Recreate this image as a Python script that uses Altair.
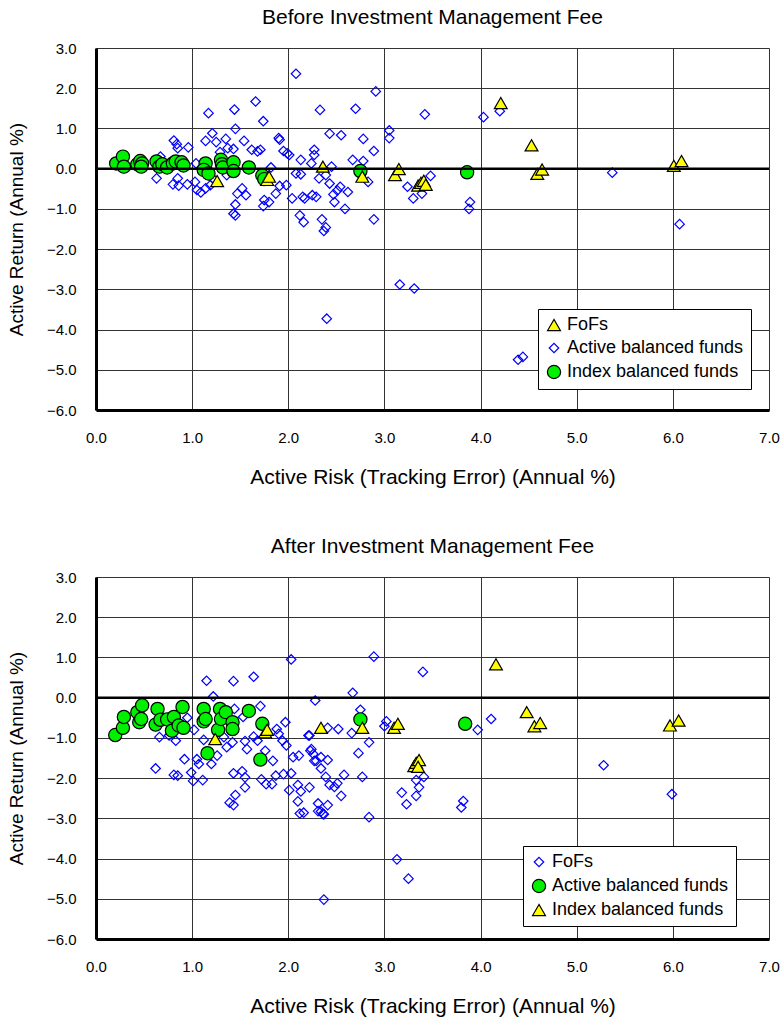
import altair as alt
import pandas as pd

# ---------------- Top panel (Before fee) ----------------
top_title = "Before Investment Management Fee"
top_labels = ["FoFs", "Active balanced funds", "Index balanced funds"]  # triangle, diamond, circle

top_tri_x = [1.26, 1.78, 1.80, 2.36, 2.77, 3.11, 3.15, 3.35, 3.38, 3.41, 3.43, 4.21, 4.53, 4.59, 4.64, 6.01, 6.09]
top_tri_y = [-0.31, -0.28, -0.20, 0.05, -0.20, -0.16, -0.01, -0.42, -0.35, -0.30, -0.40, 1.63, 0.58, -0.13, -0.02, 0.07, 0.19]

top_dia_x = [2.08, 1.66, 1.44, 1.17, 1.74, 1.45, 1.21, 1.14, 1.25, 1.35, 1.37, 1.43, 1.29, 1.54, 1.62, 1.68, 1.71,
             1.90, 1.91, 1.95, 1.99, 2.01, 2.13, 2.27, 2.27, 0.81, 0.84, 0.85, 0.96, 0.67, 0.63, 0.80, 0.85, 0.86,
             0.95, 1.03, 1.05, 1.09, 1.14, 1.19, 1.23, 1.04, 1.36, 1.52, 1.56, 1.47, 1.45, 1.43, 1.45, 1.75, 1.74,
             1.80, 1.87, 1.91, 1.98, 2.04, 2.08, 2.13, 2.12, 2.16, 2.15, 2.17, 2.25, 2.29, 2.32, 1.82,
             2.91, 2.33, 2.70, 3.42, 4.03, 4.20, 2.43, 2.55, 2.78, 2.89, 3.05, 3.05, 2.67, 2.78, 2.24, 2.45,
             2.39, 2.43, 2.54, 2.51, 2.62, 2.47, 2.48, 2.59, 2.83, 2.89, 2.35, 2.39, 3.24, 3.30, 3.39, 3.48,
             3.89, 3.88, 2.37, 3.16, 3.31, 2.40, 4.39, 4.44, 5.37, 6.07]
top_dia_y = [2.36, 1.67, 1.47, 1.38, 1.18, 0.99, 0.88, 0.69, 0.66, 0.74, 0.51, 0.49, 0.41, 0.69, 0.47, 0.43, 0.47,
             0.76, 0.72, 0.44, 0.38, 0.34, 0.22, 0.47, 0.34, 0.70, 0.61, 0.51, 0.53, 0.30, -0.24, -0.39, -0.24, -0.42,
             -0.39, -0.33, -0.53, -0.59, -0.49, -0.41, -0.28, 0.13, -0.16, -0.49, -0.66, -0.62, -0.89, -1.12, -1.16, -0.78, -0.93,
             -0.83, -0.62, -0.43, -0.41, -0.74, -0.12, -0.14, -1.16, -1.33, -0.70, -0.74, -0.66, -0.70, -0.24, 0.03,
             1.92, 1.46, 1.49, 1.35, 1.28, 1.43, 0.87, 0.83, 0.74, 0.44, 0.95, 0.76, 0.22, 0.19, 0.13, 0.05,
             -0.16, -0.37, -0.45, -0.54, -0.58, -0.64, -0.83, -1.00, -0.33, -1.26, -1.26, -1.46, -0.45, -0.74, -0.62, -0.18,
             -0.83, -1.00, -1.55, -2.88, -2.98, -3.73, -4.75, -4.68, -0.10, -1.38]

top_cir_x = [0.21, 0.28, 0.29, 0.43, 0.46, 0.48, 0.47, 0.63, 0.66, 0.69, 0.74, 0.80, 0.83, 0.89, 0.91, 1.14,
             1.12, 1.17, 1.30, 1.31, 1.32, 1.43, 1.43, 1.59, 1.73, 1.75, 2.75, 3.86]
top_cir_y = [0.13, 0.30, 0.05, 0.11, 0.19, 0.13, 0.05, 0.18, 0.05, 0.11, 0.03, 0.13, 0.18, 0.16, 0.08, 0.13,
             -0.03, -0.12, 0.22, 0.11, 0.03, 0.16, -0.06, 0.03, -0.17, -0.26, -0.06, -0.09]

# ---------------- Bottom panel (After fee) ----------------
bot_title = "After Investment Management Fee"
bot_labels = ["FoFs", "Active balanced funds", "Index balanced funds"]  # diamond, circle, triangle

bot_dia_x = [2.03, 1.15, 1.43, 1.64, 1.22, 2.28, 1.71, 1.44, 1.53, 0.95, 0.66, 0.76, 0.83, 1.02, 1.12, 1.26,
             1.33, 1.42, 1.36, 1.55, 1.57, 1.64, 1.68, 1.76, 1.84, 1.88, 1.90, 1.94, 1.98, 1.97, 2.05, 2.11,
             2.21, 2.23, 2.27, 0.62, 0.81, 0.85, 1.01, 0.99, 1.11, 0.92, 1.05, 1.07, 1.20, 1.43, 1.52, 1.55,
             1.55, 1.72, 1.77, 1.83, 1.87, 1.95, 2.03, 2.01, 2.10, 2.13, 2.22, 2.10, 2.12, 1.39, 1.43, 1.45,
             2.31, 2.31, 2.89, 3.40, 2.67, 2.75, 3.02, 3.00, 2.41, 2.52, 2.66, 2.22, 2.84, 2.73, 2.24, 2.26,
             2.34, 2.29, 2.41, 2.34, 2.58, 2.77, 2.39, 2.43, 2.48, 2.51, 2.55, 2.41, 2.34, 2.37, 2.16, 2.84,
             4.11, 3.97, 3.41, 3.33, 3.36, 3.33, 3.18, 3.23, 3.82, 3.80, 3.13, 3.25, 2.37, 5.28, 5.99, 2.36]
bot_dia_y = [0.95, 0.42, 0.41, 0.52, 0.03, -0.07, -0.21, -0.28, -0.48, -0.50, -0.98, -0.94, -1.07, -0.80, -1.05, -1.44,
             -0.98, -1.11, -1.23, -1.08, -1.28, -0.97, -1.07, -1.32, -1.57, -0.78, -0.90, -1.07, -1.19, -0.61, -1.48, -1.44,
             -0.94, -1.32, -1.57, -1.76, -1.92, -1.94, -2.07, -1.86, -2.05, -1.53, -1.53, -1.65, -1.65, -1.88, -1.83, -1.98,
             -2.23, -2.03, -2.15, -2.15, -1.94, -1.90, -1.88, -2.30, -2.17, -2.33, -2.23, -2.58, -2.88, -2.61, -2.67, -2.42,
             -2.63, -2.82, 1.02, 0.64, 0.12, -0.30, -0.59, -0.71, -0.75, -0.78, -0.88, -0.94, -1.11, -1.38, -1.28, -1.40,
             -1.48, -1.57, -1.55, -1.76, -1.92, -1.97, -1.97, -2.17, -2.22, -2.13, -2.44, -2.67, -2.83, -2.90, -2.86, -2.97,
             -0.53, -0.80, -1.97, -2.05, -2.23, -2.44, -2.36, -2.65, -2.57, -2.73, -4.02, -4.50, -5.02, -1.68, -2.40, -2.89]

bot_cir_x = [0.20, 0.28, 0.29, 0.43, 0.45, 0.47, 0.48, 0.62, 0.64, 0.67, 0.74, 0.79, 0.81, 0.86, 0.90, 0.91,
             1.12, 1.12, 1.14, 1.16, 1.27, 1.29, 1.30, 1.35, 1.42, 1.42, 1.59, 1.73, 1.71, 2.75, 3.84]
bot_cir_y = [-0.93, -0.75, -0.48, -0.36, -0.61, -0.53, -0.19, -0.67, -0.28, -0.55, -0.54, -0.82, -0.48, -0.69, -0.23, -0.75,
             -0.28, -0.59, -0.53, -1.38, -0.80, -0.28, -0.53, -0.36, -0.61, -0.78, -0.33, -0.65, -1.54, -0.54, -0.65]

bot_tri_x = [1.24, 1.76, 1.78, 2.34, 2.77, 3.10, 3.14, 3.31, 3.33, 3.36, 3.35, 4.16, 4.48, 4.56, 4.62, 5.97, 6.06]
bot_tri_y = [-1.03, -0.86, -0.80, -0.75, -0.75, -0.75, -0.65, -1.70, -1.62, -1.55, -1.72, 0.83, -0.36, -0.71, -0.63, -0.69, -0.57]

x_ticks = [0, 1, 2, 3, 4, 5, 6, 7]
y_ticks = [-6, -5, -4, -3, -2, -1, 0, 1, 2, 3]

FONT = "Liberation Sans"


def frame(xs, ys, label, order):
    return pd.DataFrame({"x": xs, "y": ys, "group": [label] * len(xs), "o": [order] * len(xs)})


def panel(title, df, domain, shapes, fills, strokes, sizes, legend_x, legend_y):
    xaxis = alt.Axis(values=x_ticks, format=".1f", title="Active Risk (Tracking Error) (Annual %)",
                     labelFontSize=15, titleFontSize=21, titleFontWeight="normal", labelPadding=20,
                     titlePadding=21, ticks=False, domainColor="black", domainWidth=3, labelFlush=False,
                     gridColor="#333333", gridWidth=1, labelFont=FONT, titleFont=FONT, labelColor="black",
                     titleColor="black")
    yaxis = alt.Axis(values=y_ticks, format=".1f", title="Active Return (Annual %)",
                     labelFontSize=15, titleFontSize=19, titleFontWeight="normal", labelPadding=20,
                     titlePadding=20, ticks=False, domainColor="black", domainWidth=3, labelFlush=False,
                     gridColor="#333333", gridWidth=1, labelFont=FONT, titleFont=FONT, labelColor="black",
                     titleColor="black")
    legend = alt.Legend(title=None, orient="none", legendX=legend_x, legendY=legend_y,
                        fillColor="white", strokeColor="black", padding=7, labelFontSize=18,
                        labelFont=FONT, labelColor="black", rowPadding=5, symbolStrokeWidth=1.2,
                        labelOffset=4, labelLimit=400)
    pts = alt.Chart(df).mark_point(filled=False, opacity=1, strokeWidth=1.2).encode(
        x=alt.X("x:Q", scale=alt.Scale(domain=[0, 7], nice=False), axis=xaxis),
        y=alt.Y("y:Q", scale=alt.Scale(domain=[-6, 3], nice=False), axis=yaxis),
        shape=alt.Shape("group:N", scale=alt.Scale(domain=domain, range=shapes), legend=legend),
        fill=alt.Fill("group:N", scale=alt.Scale(domain=domain, range=fills), legend=legend),
        stroke=alt.Stroke("group:N", scale=alt.Scale(domain=domain, range=strokes), legend=legend),
        size=alt.Size("group:N", scale=alt.Scale(type="ordinal", domain=domain, range=sizes), legend=legend),
        order=alt.Order("o:Q"),
    )
    zero = alt.Chart(pd.DataFrame({"y": [0]})).mark_rule(color="black", strokeWidth=2.5).encode(y="y:Q")
    return alt.layer(pts, zero).properties(
        width=673, height=362,
        title=alt.TitleParams(title, fontSize=21, font=FONT, fontWeight="normal", offset=13,
                              frame="group", anchor="middle", color="black"),
    ).resolve_scale(shape="independent", fill="independent", stroke="independent", size="independent")


top_df = pd.concat([
    frame(top_dia_x, top_dia_y, top_labels[1], 0),
    frame(top_cir_x, top_cir_y, top_labels[2], 1),
    frame(top_tri_x, top_tri_y, top_labels[0], 2),
], ignore_index=True)

bot_df = pd.concat([
    frame(bot_dia_x, bot_dia_y, bot_labels[0], 0),
    frame(bot_cir_x, bot_cir_y, bot_labels[1], 1),
    frame(bot_tri_x, bot_tri_y, bot_labels[2], 2),
], ignore_index=True)

top = panel(top_title, top_df, top_labels,
            ["triangle-up", "diamond", "circle"], ["#FFFF00", "transparent", "#00F000"],
            ["black", "#0000FF", "black"], [165, 90, 175], 442, 261)
bot = panel(bot_title, bot_df, bot_labels,
            ["diamond", "circle", "triangle-up"], ["transparent", "#00F000", "#FFFF00"],
            ["#0000FF", "black", "black"], [90, 175, 165], 427, 269)

chart = alt.vconcat(top, bot, spacing=47).resolve_scale(
    shape="independent", fill="independent", stroke="independent", size="independent"
).resolve_legend(shape="independent", fill="independent", stroke="independent", size="independent").configure_view(
    stroke="black", strokeWidth=2
).configure(padding={"left": 6, "top": 6, "right": 0, "bottom": 5}, background="white")

chart.save("out.html", embed_options={"renderer": "svg", "actions": False})
